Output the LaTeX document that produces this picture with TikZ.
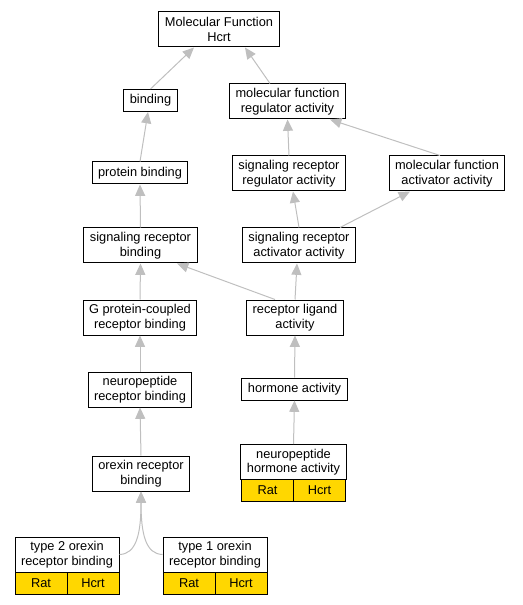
\documentclass[tikz,border=0pt]{standalone}
\usepackage{fontspec}
\setmainfont{Liberation Sans}
\usepackage{xcolor}
\usetikzlibrary{positioning, arrows.meta, calc}
\definecolor{genegold}{RGB}{255,215,0}
\begin{document}
\begin{tikzpicture}[
      x=0.75pt, y=-0.75pt,
      box/.style={draw, fill=white, line width=0.75pt, align=center, inner xsep=4.5pt, inner ysep=0pt, minimum height=26.25pt, font=\fontsize{9.6pt}{10.8pt}\selectfont},
      short/.style={box, minimum height=16.5pt},
      genebox/.style={box, minimum width=78pt},
      cell/.style={short, fill=genegold, minimum width=39pt, inner xsep=0pt},
      arr/.style={draw=black!25, line width=0.75pt, -{Triangle[length=8.5pt, width=7.5pt]}}
    ]
    \useasboundingbox (0,0) rectangle (523,605);

    \node[box] (top) at (219,29.5) {Molecular Function\\Hcrt};
    \node[short] (bind) at (150.5,100.5) {binding};
    \node[box] (mfra) at (287.5,101.5) {molecular function\\regulator activity};
    \node[short] (pb) at (140,173) {protein binding};
    \node[box] (srra) at (289,173.5) {signaling receptor\\regulator activity};
    \node[box] (mfaa) at (447,173.5) {molecular function\\activator activity};
    \node[box] (srb) at (140.5,245.5) {signaling receptor\\binding};
    \node[box] (sraa) at (299,245.5) {signaling receptor\\activator activity};
    \node[box] (gpcr) at (140,317.5) {G protein-coupled\\receptor binding};
    \node[box] (rla) at (295,317.5) {receptor ligand\\activity};
    \node[box] (npr) at (140,389.5) {neuropeptide\\receptor binding};
    \node[short] (horm) at (294.5,389) {hormone activity};
    \node[box] (orb) at (141,473.5) {orexin receptor\\binding};

    % annotated terms
    \node[genebox] (nha) at (293.5,462) {neuropeptide\\hormone activity};
    \node[cell] (nharat) at (267.5,490.5) {Rat};
    \node[cell] (nhahcrt) at (319.5,490.5) {Hcrt};
    \node[genebox] (ttwo) at (67,554.5) {type 2 orexin\\receptor binding};
    \node[cell] (ttworat) at (41,583) {Rat};
    \node[cell] (ttwohcrt) at (93,583) {Hcrt};
    \node[genebox] (tone) at (215,554.5) {type 1 orexin\\receptor binding};
    \node[cell] (tonerat) at (189,583) {Rat};
    \node[cell] (tonehcrt) at (241,583) {Hcrt};

    \draw[arr] (bind.north) -- ($(top.south)+(-25,0)$);
    \draw[arr] ($(mfra.north)+(-17.5,0)$) -- ($(top.south)+(26,0)$);
    \draw[arr] (pb.north) -- ($(bind.south)+(-2.5,0)$);
    \draw[arr] (srra.north) -- (mfra.south);
    \draw[arr] ($(mfaa.north)+(-7,0)$) -- ($(mfra.south)+(42.5,0)$);
    \draw[arr] (srb.north) -- (pb.south);
    \draw[arr] (sraa.north) -- ($(srra.south)+(4,0)$);
    \draw[arr] ($(sraa.north)+(41,0)$) -- ($(mfaa.south)+(-37,0)$);
    \draw[arr] (gpcr.north) -- (srb.south);
    \draw[arr] ($(rla.north)+(-20,0)$) -- ($(srb.south)+(36.5,0)$);
    \draw[arr] (rla.north) -- ($(sraa.south)+(-2,0)$);
    \draw[arr] (npr.north) -- (gpcr.south);
    \draw[arr] (horm.north) -- (rla.south);
    \draw[arr] (orb.north) -- (npr.south);
    \draw[arr] (nha.north) -- (horm.south);
    \draw[arr] (ttwo.east) .. controls (136,554) and (141,535) .. (orb.south);
    \draw[arr] (tone.west) .. controls (146,554) and (141,535) .. (orb.south);
  \end{tikzpicture}
\end{document}
